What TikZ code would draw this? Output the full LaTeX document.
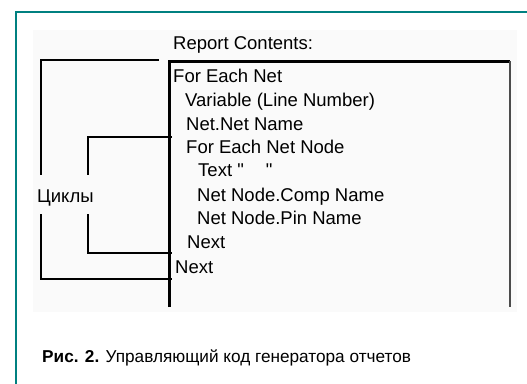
\documentclass[tikz,border=0pt]{standalone}
\usepackage{fontspec}
\setmainfont{Liberation Sans}[Ligatures=TeXOff]
\usetikzlibrary{positioning}
\definecolor{frameteal}{RGB}{0, 128, 128}
\definecolor{panelgrey}{RGB}{250, 250, 250}

\begin{document}
\begin{tikzpicture}[x=1pt, y=-1pt,
    listing/.style={anchor=base west, inner sep=0pt, font=\fontsize{18.5}{20}\selectfont},
    bracket/.style={line width=2.7pt}]

\useasboundingbox (0,0) rectangle (527,383);
\fill[white] (0,0) rectangle (527,383);

% teal frame and grey panel behind the listing
\draw[frameteal, line width=2.5pt] (16,390) -- (16,12) -- (540,12);
\fill[panelgrey] (33,30) rectangle (517,312);

% the report listing box (open at the bottom)
\node[listing] (title) at (173,49.5) {Report Contents:};
\draw[line width=3pt] (169,307) -- (169,61) -- (510,61);
\draw[line width=1.6pt, black!70] (510,61) -- (510,307);

% listing lines
\node[listing] (l1) at (173,82)  {For Each Net};
\node[listing] (l2) at (185,106) {Variable (Line Number)};
\node[listing] (l3) at (186,130) {Net.Net Name};
\node[listing] (l4) at (186,153) {For Each Net Node};
\node[listing] (l5) at (198,176) {Text "\hspace{22pt}"};
\node[listing] (l6) at (197,201) {Net Node.Comp Name};
\node[listing] (l7) at (197,224) {Net Node.Pin Name};
\node[listing] (l8) at (187,248) {Next};
\node[listing] (l9) at (175,273) {Next};

% loop brackets, broken around the label
\node[listing] (loops) at (37,202) {Циклы};

\coordinate (outerTop) at (159,60);
\coordinate (outerBot) at (172,279);
\coordinate (innerTop) at (172,137);
\coordinate (innerBot) at (172,253);

\draw[bracket] (outerTop) -- (41,60) -- (41,175);
\draw[bracket] (41,214) -- (41,279) -- (outerBot);
\draw[bracket] (innerTop) -- (88,137) -- (88,175);
\draw[bracket] (88,214) -- (88,253) -- (innerBot);

% caption
\node[anchor=base west, inner sep=0pt, font=\fontsize{17.2}{19}\selectfont] (caption) at (42,362)
  {\textbf{Рис. 2.} Управляющий код генератора отчетов};

\end{tikzpicture}
\end{document}
